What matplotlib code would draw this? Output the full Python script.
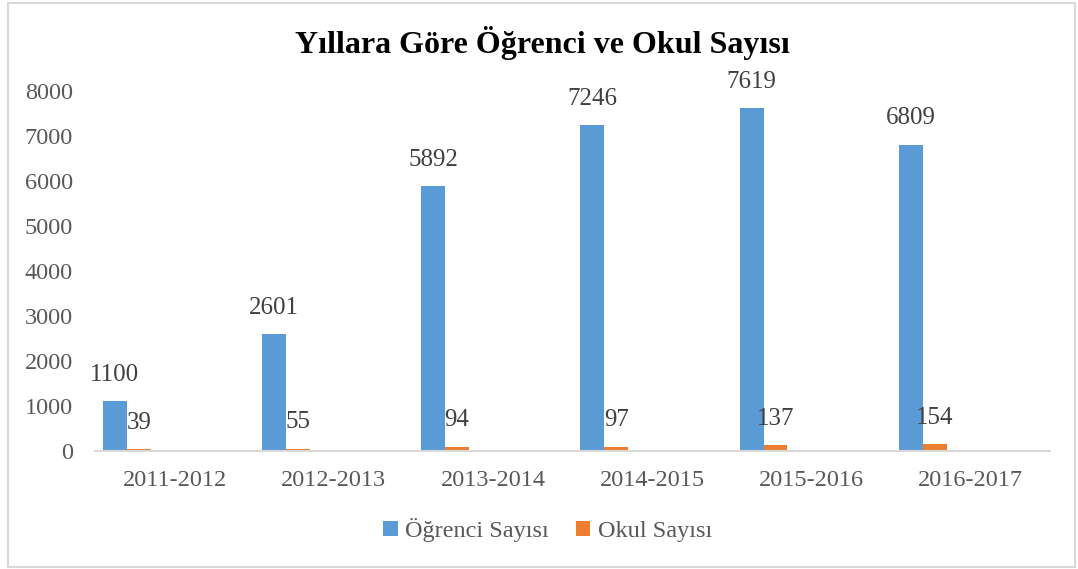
import matplotlib.pyplot as plt
import numpy as np
from matplotlib.patches import Rectangle

yillar = ["2011-2012", "2012-2013", "2013-2014", "2014-2015", "2015-2016", "2016-2017"]
ogrenci = [1100, 2601, 5892, 7246, 7619, 6809]
okul = [39, 55, 94, 97, 137, 154]

plt.rcParams['font.family'] = ['Liberation Serif', 'DejaVu Serif']

fig = plt.figure(figsize=(10.78, 5.69), dpi=100)
ax = fig.add_axes([0.0881, 0.2074, 0.886, 0.6326])

x = np.arange(len(yillar))
w = 0.15
b1 = ax.bar(x - 2.5 * w, ogrenci, w, color="#5B9BD5", label="Öğrenci Sayısı")
b2 = ax.bar(x - 1.5 * w, okul, w, color="#ED7D31", label="Okul Sayısı")

for bars, vals in ((b1, ogrenci), (b2, okul)):
    for r, v in zip(bars, vals):
        ax.annotate(str(v), (r.get_x() + r.get_width() / 2, v), xytext=(0, 11),
                    textcoords="offset points", ha="center", va="bottom",
                    fontsize=18, color="#404040")

ax.set_xlim(-0.5, len(yillar) - 0.5)
ax.set_ylim(0, 8000)
ax.set_yticks(range(0, 8001, 1000))
ax.set_xticks(x)
ax.set_xticklabels(yillar)
ax.tick_params(length=0, labelsize=17.5, labelcolor="#595959")
ax.tick_params(axis="x", pad=14)
ax.tick_params(axis="y", pad=16)
for s in ("top", "right", "left"):
    ax.spines[s].set_visible(False)
ax.spines["bottom"].set_color("#d9d9d9")
ax.spines["bottom"].set_linewidth(1.5)

fig.text(0.503, 0.925, "Yıllara Göre Öğrenci ve Okul Sayısı", ha="center", va="center",
         fontsize=23, fontweight="bold", color="black")

leg = fig.legend(loc="center", bbox_to_anchor=(0.508, 0.068), ncol=2, frameon=False,
                 fontsize=17.5, handlelength=0.6, handleheight=0.6, handletextpad=0.3,
                 columnspacing=1.1)
for t in leg.get_texts():
    t.set_color("#595959")

fig.patches.append(Rectangle((0.007, 0.004), 0.99, 0.99, transform=fig.transFigure,
                             fill=False, edgecolor="#d9d9d9", linewidth=1.5))

fig.savefig("out.png", dpi=100)
